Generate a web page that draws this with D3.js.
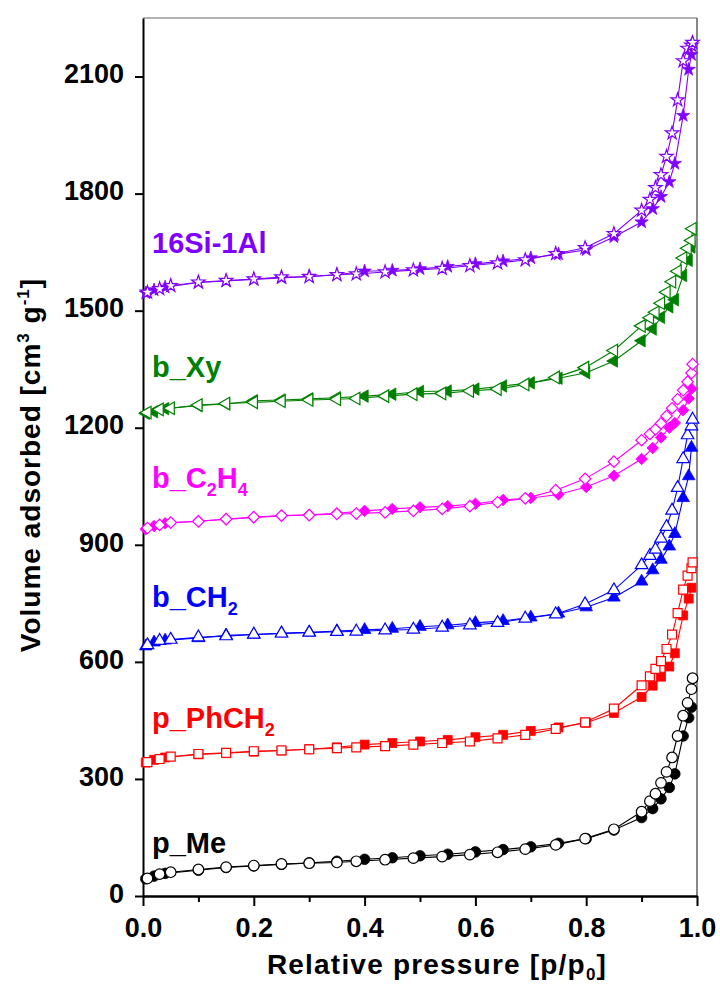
<!DOCTYPE html>
<html>
<head>
<meta charset="utf-8">
<script src="https://cdn.jsdelivr.net/npm/d3@7"></script>
<style>
  body { margin: 0; background: #fff; }
  text { font-family: "Liberation Sans", Arial, sans-serif; font-weight: bold; }
</style>
</head>
<body>
<svg id="chart" width="720" height="992"></svg>
<script>
// ---------------------------------------------------------------- //
// DATA ------------------------------------------------------------//
// ---------------------------------------------------------------- //

// relative pressure of the points, adsorption (filled) and desorption (open)
var pAds = [0.005, 0.02, 0.04, 0.1, 0.15, 0.2, 0.25, 0.3, 0.35, 0.4, 0.45, 0.5, 0.55, 0.6, 0.65,
            0.7, 0.75, 0.8, 0.85, 0.9, 0.92, 0.935, 0.95, 0.96, 0.975, 0.985, 0.99]
var pDes = [0.008, 0.03, 0.05, 0.1, 0.15, 0.2, 0.25, 0.3, 0.35, 0.385, 0.437, 0.488, 0.54, 0.59, 0.64,
            0.69, 0.745, 0.798, 0.85, 0.9, 0.915, 0.925, 0.935, 0.945, 0.955, 0.965, 0.975, 0.983, 0.99, 0.992]

// volumes (cm3 g-1), curves are offset in the original figure
var meAds = [44, 51, 58, 66, 73, 77, 81, 85, 89, 94, 98, 103, 107, 113, 119, 126, 135, 147, 169, 201, 224, 249, 278, 313, 410, 457, 484]
var meDes = [45, 56, 61, 68, 74, 78, 82, 84, 86, 89, 93, 97, 101, 106, 112, 120, 131, 147, 171, 216, 243, 262, 290, 318, 355, 410, 462, 495, 530, 558]

var phAds = [342, 349, 355, 363, 366, 370, 373, 376, 381, 388, 392, 396, 400, 407, 413, 423, 432, 444, 469, 510, 539, 562, 588, 622, 719, 762, 790]
var phDes = [343, 351, 357, 364, 367, 371, 373, 376, 379, 381, 384, 388, 392, 396, 404, 413, 428, 445, 480, 540, 563, 582, 602, 633, 670, 725, 785, 821, 840, 855]

var chAds = [640, 650, 655, 661, 668, 670, 673, 676, 679, 682, 685, 690, 694, 700, 705, 714, 724, 740, 765, 806, 835, 862, 896, 928, 1020, 1076, 1149]
var chDes = [643, 654, 657, 663, 666, 670, 673, 675, 677, 678, 681, 683, 688, 694, 700, 711, 722, 748, 784, 848, 872, 888, 916, 946, 988, 1046, 1120, 1181, 1204, 1221]

var etAds = [940, 948, 955, 961, 965, 970, 974, 977, 981, 987, 992, 996, 999, 1005, 1015, 1020, 1029, 1048, 1077, 1120, 1148, 1175, 1200, 1212, 1245, 1275, 1300]
var etDes = [943, 951, 957, 960, 966, 971, 975, 976, 979, 980, 983, 987, 992, 999, 1009, 1019, 1040, 1069, 1113, 1168, 1184, 1196, 1211, 1230, 1250, 1273, 1296, 1318, 1340, 1363]

var xyAds = [1237, 1241, 1249, 1257, 1261, 1269, 1271, 1274, 1277, 1281, 1286, 1293, 1294, 1299, 1307, 1315, 1327, 1341, 1371, 1423, 1453, 1483, 1510, 1528, 1590, 1629, 1663]
var xyDes = [1239, 1247, 1250, 1258, 1262, 1265, 1268, 1271, 1273, 1275, 1281, 1286, 1288, 1294, 1299, 1311, 1329, 1354, 1398, 1461, 1482, 1496, 1519, 1547, 1574, 1601, 1635, 1660, 1680, 1710]

var siAds = [1545, 1553, 1560, 1572, 1576, 1580, 1584, 1588, 1592, 1601, 1603, 1607, 1613, 1620, 1627, 1635, 1645, 1656, 1689, 1727, 1761, 1792, 1830, 1877, 2000, 2118, 2156]
var siDes = [1547, 1556, 1564, 1573, 1577, 1581, 1586, 1587, 1592, 1594, 1599, 1604, 1608, 1615, 1622, 1630, 1646, 1661, 1697, 1757, 1785, 1815, 1848, 1895, 1955, 2040, 2140, 2172, 2180, 2187]

// tick labels
var yTicks = [0, 300, 600, 900, 1200, 1500, 1800, 2100]
var xTicks = [0, 0.2, 0.4, 0.6, 0.8, 1.0]
var xMinor = [0.1, 0.3, 0.5, 0.7, 0.9]

// series table
var series = [
    { label: "p_Me",     sub: [],        color: "#000000", shape: "circle",   ads: meAds, des: meDes, ly: 853 },
    { label: "p_PhCH",   sub: ["2"],     color: "#ff0000", shape: "square",   ads: phAds, des: phDes, ly: 728 },
    { label: "b_CH",     sub: ["2"],     color: "#0000ff", shape: "triangle", ads: chAds, des: chDes, ly: 607 },
    { label: "b_C",      sub: ["2", "H", "4"], color: "#ff00ff", shape: "diamond", ads: etAds, des: etDes, ly: 488 },
    { label: "b_Xy",     sub: [],        color: "#008000", shape: "left",     ads: xyAds, des: xyDes, ly: 377 },
    { label: "16Si-1Al", sub: [],        color: "#8000ff", shape: "star",     ads: siAds, des: siDes, ly: 253 }
]

// ---------------------------------------------------------------- //
// SETUP -----------------------------------------------------------//
// ---------------------------------------------------------------- //

var svg = d3.select("#chart")

var x = d3.scaleLinear().domain([0, 1]).range([143, 697])
var y = d3.scaleLinear().domain([0, 2250]).range([896, 18])

// frame: thin grey top/right
svg.append("line")
    .attr("x1", x(0)).attr("x2", x(1)).attr("y1", y(2250)).attr("y2", y(2250))
    .attr("stroke", "#666").attr("stroke-width", 1.2)
svg.append("line")
    .attr("x1", x(1)).attr("x2", x(1)).attr("y1", y(2250)).attr("y2", y(0))
    .attr("stroke", "#555").attr("stroke-width", 1.4)

// axes
var yAxis = d3.axisLeft(y).tickValues(yTicks).tickSize(8).tickSizeOuter(0).tickPadding(11)
    .tickFormat(d3.format("d"))
var xAxis = d3.axisBottom(x).tickValues(xTicks).tickSize(10).tickSizeOuter(0).tickPadding(12)
    .tickFormat(d3.format(".1f"))
var xAxisMinor = d3.axisBottom(x).tickValues(xMinor).tickSize(6).tickSizeOuter(0).tickFormat("")

var gy = svg.append("g").attr("transform", "translate(" + x(0) + ",0)").call(yAxis)
var gxm = svg.append("g").attr("transform", "translate(0," + y(0) + ")").call(xAxisMinor)
var gx = svg.append("g").attr("transform", "translate(0," + y(0) + ")").call(xAxis)

;[gy, gx, gxm].forEach(function (g) {
    g.selectAll("path, line").attr("stroke", "#000").attr("stroke-width", 2)
    g.selectAll("text").attr("fill", "#000").style("font-size", "27px")
        .style("font-family", '"Liberation Sans", Arial, sans-serif').style("font-weight", "bold")
})
gy.selectAll("text").attr("dy", "0.23em")

// axis titles
var xt = svg.append("text")
    .attr("x", 437).attr("y", 974)
    .attr("text-anchor", "middle")
    .style("font-size", "28px").style("letter-spacing", "1.2px")
xt.append("tspan").text("Relative pressure [p/p")
xt.append("tspan").attr("dy", 6).style("font-size", "17px").text("0")
xt.append("tspan").attr("dy", -6).text("]")

var yt = svg.append("text")
    .attr("transform", "translate(40,465) rotate(-90)")
    .attr("text-anchor", "middle")
    .style("font-size", "28px").style("letter-spacing", "1px")
yt.append("tspan").text("Volume adsorbed [cm")
yt.append("tspan").attr("dy", -11).style("font-size", "17px").text("3")
yt.append("tspan").attr("dy", 11).text(" g")
yt.append("tspan").attr("dy", -11).style("font-size", "17px").text("-1")
yt.append("tspan").attr("dy", 11).text("]")

// ---------------------------------------------------------------- //
// CURVES ----------------------------------------------------------//
// ---------------------------------------------------------------- //

function symbolPath(shape) {
    if (shape == "circle") return d3.symbol().type(d3.symbolCircle).size(88)()
    if (shape == "square") return d3.symbol().type(d3.symbolSquare).size(80)()
    if (shape == "triangle" || shape == "left") return d3.symbol().type(d3.symbolTriangle).size(68)()
    if (shape == "diamond") return d3.symbol().type(d3.symbolSquare).size(66)()
    return d3.symbol().type(d3.symbolStar).size(55)()
}
function symbolRotate(shape) {
    if (shape == "left") return " rotate(-90)"
    if (shape == "diamond") return " rotate(45)"
    return ""
}

var line = d3.line()
    .x(function (d) { return x(d[0]) })
    .y(function (d) { return y(d[1]) })

series.forEach(function (s) {
    var ads = pAds.map(function (p, i) { return [p, s.ads[i]] })
    var des = pDes.map(function (p, i) { return [p, s.des[i]] })
    var g = svg.append("g")

    g.append("path").datum(ads).attr("d", line)
        .attr("fill", "none").attr("stroke", s.color).attr("stroke-width", 1.1)
    g.append("path").datum(des).attr("d", line)
        .attr("fill", "none").attr("stroke", s.color).attr("stroke-width", 1.1)

    var sym = symbolPath(s.shape)
    var rot = symbolRotate(s.shape)

    g.selectAll(".ads").data(ads).enter().append("path")
        .attr("class", "ads")
        .attr("d", sym)
        .attr("transform", function (d) { return "translate(" + x(d[0]) + "," + y(d[1]) + ")" + rot })
        .attr("fill", s.color).attr("stroke", s.color).attr("stroke-width", 0.8)

    g.selectAll(".des").data(des).enter().append("path")
        .attr("class", "des")
        .attr("d", sym)
        .attr("transform", function (d) { return "translate(" + x(d[0]) + "," + y(d[1]) + ")" + rot })
        .attr("fill", "#fff").attr("stroke", s.color).attr("stroke-width", 1.2)

    // label
    var t = svg.append("text")
        .attr("x", 152).attr("y", s.ly)
        .attr("fill", s.color)
        .style("font-size", "29px")
    t.append("tspan").text(s.label)
    if (s.sub.length == 1) {
        t.append("tspan").attr("dy", 8).style("font-size", "18px").text(s.sub[0])
    } else if (s.sub.length == 3) {
        t.append("tspan").attr("dy", 8).style("font-size", "18px").text(s.sub[0])
        t.append("tspan").attr("dy", -8).text(s.sub[1])
        t.append("tspan").attr("dy", 8).style("font-size", "18px").text(s.sub[2])
    }
})
</script>
</body>
</html>
